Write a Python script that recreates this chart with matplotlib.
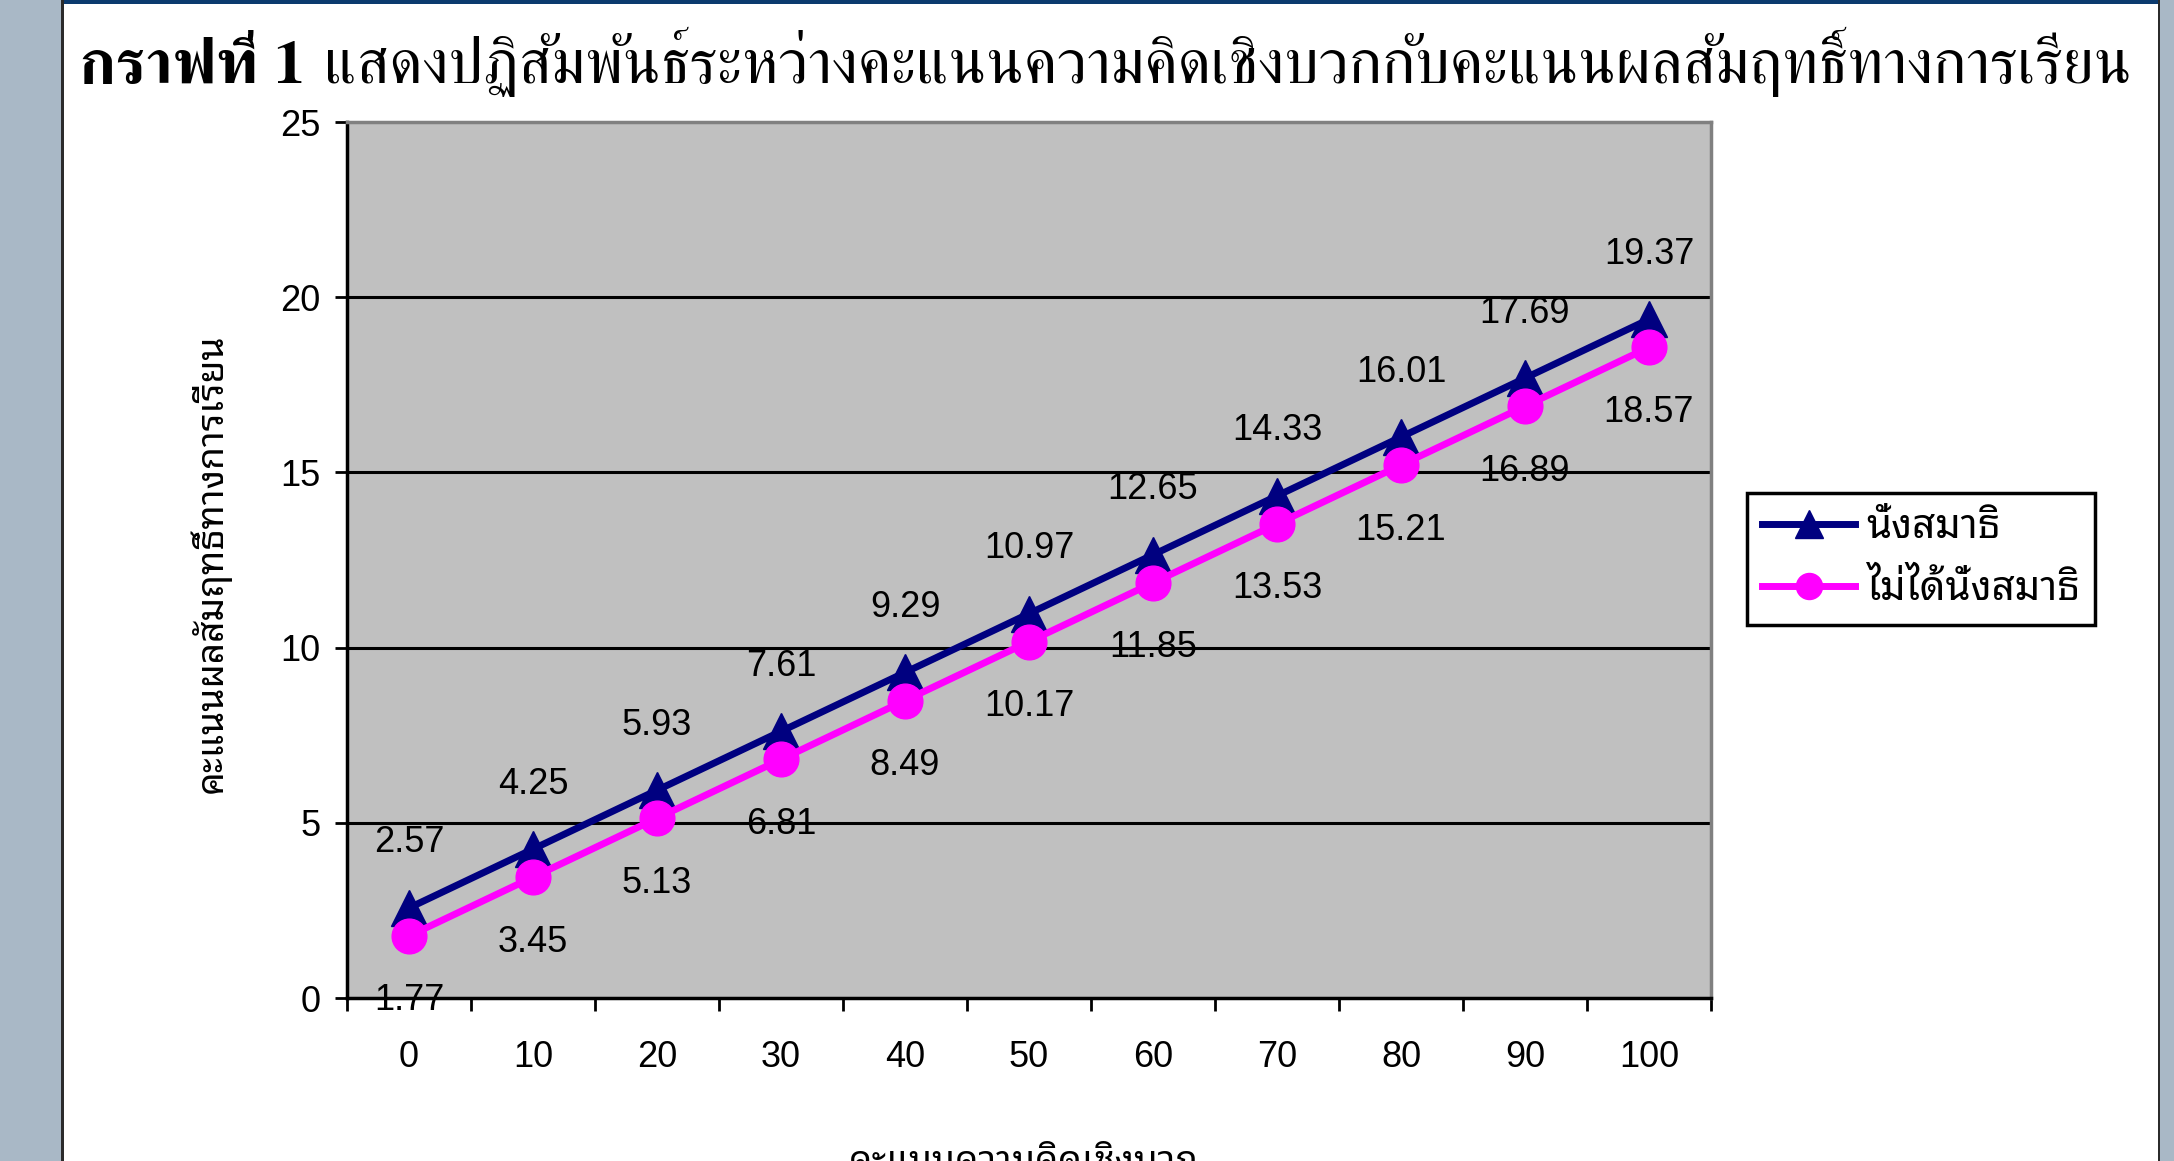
import logging
import matplotlib
matplotlib.use("Agg")
import matplotlib.pyplot as plt
from matplotlib.patches import Rectangle

logging.getLogger("matplotlib.font_manager").setLevel(logging.ERROR)

# ---------------- data ----------------
x_values = [0, 10, 20, 30, 40, 50, 60, 70, 80, 90, 100]
meditation = [2.57, 4.25, 5.93, 7.61, 9.29, 10.97, 12.65, 14.33, 16.01, 17.69, 19.37]
no_meditation = [1.77, 3.45, 5.13, 6.81, 8.49, 10.17, 11.85, 13.53, 15.21, 16.89, 18.57]
series_names = ["นั่งสมาธิ", "ไม่ได้นั่งสมาธิ"]
y_ticks = [0, 5, 10, 15, 20, 25]
title_bold = "กราฟที่ 1"
title_rest = "แสดงปฏิสัมพันธ์ระหว่างคะแนนความคิดเชิงบวกกับคะแนนผลสัมฤทธิ์ทางการเรียน"
x_label = "คะแนนความคิดเชิงบวก"
y_label = "คะแนนผลสัมฤทธิ์ทางการเรียน"

# ---------------- style ----------------
THAI_SANS = ["Noto Sans Thai Looped", "IBM Plex Sans Thai Looped", "Sarabun", "DejaVu Sans"]
THAI_SERIF = ["FreeSerif", "Noto Serif Thai", "DejaVu Serif"]
NUM_FONT = ["Liberation Sans", "DejaVu Sans"]
NAVY = "#000080"
MAGENTA = "#FF00FF"

W, H = 2174, 1161
fig = plt.figure(figsize=(W / 100, H / 100), dpi=100)
fig.patch.set_facecolor("white")


def fx(px):
    return px / W


def fy(py):
    return 1 - py / H


# slide frame decorations
fig.patches.append(Rectangle((0, 0), fx(61), 1, transform=fig.transFigure,
                             facecolor="#A9B8C6", edgecolor="none", zorder=0))
fig.patches.append(Rectangle((fx(61), 0), fx(2.5), 1, transform=fig.transFigure,
                             facecolor="#2b2b2b", edgecolor="none", zorder=0))
fig.patches.append(Rectangle((fx(2160), 0), 1 - fx(2160), 1, transform=fig.transFigure,
                             facecolor="#A9B8C6", edgecolor="none", zorder=0))
fig.patches.append(Rectangle((fx(2157.5), 0), fx(2.5), 1, transform=fig.transFigure,
                             facecolor="#2b2b2b", edgecolor="none", zorder=0))
fig.patches.append(Rectangle((fx(63.5), fy(4)), fx(2157.5) - fx(63.5), 1 - fy(4),
                             transform=fig.transFigure,
                             facecolor="#0B3A6E", edgecolor="none", zorder=0))

# ---------------- axes ----------------
ax = fig.add_axes([fx(347), fy(998), fx(1711) - fx(347), (998 - 122) / H])
ax.set_facecolor("#C0C0C0")
ax.set_xlim(x_values[0] - 5, x_values[-1] + 5)
ax.set_ylim(y_ticks[0], y_ticks[-1])

for yv in y_ticks[1:-1]:
    ax.axhline(yv, color="black", lw=2.2, zorder=1)

l1, = ax.plot(x_values, meditation, color=NAVY, lw=5, marker="^", ms=26,
              mec=NAVY, mfc=NAVY, zorder=3, label=series_names[0], clip_on=False)
l2, = ax.plot(x_values, no_meditation, color=MAGENTA, lw=5, marker="o", ms=25,
              mec=MAGENTA, mfc=MAGENTA, zorder=4, label=series_names[1], clip_on=False)

for xv, v in zip(x_values, meditation):
    ax.annotate(f"{v:.2f}", (xv, v), xytext=(0, 65), textcoords="offset pixels",
                ha="center", va="center", fontsize=26, family=NUM_FONT,
                zorder=6, annotation_clip=False)
for xv, v in zip(x_values, no_meditation):
    ax.annotate(f"{v:.2f}", (xv, v), xytext=(0, -65), textcoords="offset pixels",
                ha="center", va="center", fontsize=26, family=NUM_FONT,
                zorder=6, annotation_clip=False)

# spines
for side in ("left", "bottom"):
    ax.spines[side].set_color("black")
    ax.spines[side].set_linewidth(2.5)
for side in ("top", "right"):
    ax.spines[side].set_color("#808080")
    ax.spines[side].set_linewidth(2.5)
for sp in ax.spines.values():
    sp.set_zorder(5)

# ticks
ax.set_yticks(y_ticks)
ax.set_yticklabels([str(v) for v in y_ticks])
ax.tick_params(axis="y", length=9, width=2, pad=10, labelsize=26, direction="out")
ax.set_xticks(x_values)
ax.set_xticklabels([str(v) for v in x_values])
ax.tick_params(axis="x", which="major", length=0, pad=30, labelsize=26)
ax.set_xticks([v - 5 for v in x_values] + [x_values[-1] + 5], minor=True)
ax.tick_params(axis="x", which="minor", length=9, width=2, direction="out")
for lab in ax.get_xticklabels() + ax.get_yticklabels():
    lab.set_family(NUM_FONT)

fig.canvas.draw()
renderer = fig.canvas.get_renderer()


def fit(t, target, dim="w"):
    for _ in range(4):
        bb = t.get_window_extent(renderer)
        cur = bb.width if dim == "w" else bb.height
        if cur <= 0:
            break
        t.set_fontsize(t.get_fontsize() * target / cur)


# ---------------- title ----------------
t1 = fig.text(fx(79), fy(83), title_bold, fontsize=40, weight="bold",
              family=THAI_SERIF, va="baseline", ha="left")
t2 = fig.text(fx(300), fy(83), title_rest, fontsize=40,
              family=THAI_SERIF, va="baseline", ha="left")
for _ in range(4):
    w1 = t1.get_window_extent(renderer).width
    w2 = t2.get_window_extent(renderer).width
    gap = t1.get_fontsize() * 100 / 72 * 0.3
    scale = 2052 / (w1 + gap + w2)
    t1.set_fontsize(t1.get_fontsize() * scale)
    t2.set_fontsize(t2.get_fontsize() * scale)
w1 = t1.get_window_extent(renderer).width
gap = t1.get_fontsize() * 100 / 72 * 0.3
t2.set_x(fx(79 + w1 + gap))

# ---------------- axis labels ----------------
yl = fig.text(fx(210), fy(563), y_label, rotation=90, ha="center", va="center",
              weight="bold", family=THAI_SANS, fontsize=24)
fit(yl, 460, "h")
xl = fig.text(fx(1024), fy(1172), x_label, ha="center", va="baseline",
              weight="bold", family=THAI_SANS, fontsize=24)
fit(xl, 350, "w")

# ---------------- legend ----------------
tmp = fig.text(0.5, 0.5, series_names[1], family=THAI_SANS, fontsize=24)
fit(tmp, 214, "w")
leg_fs = tmp.get_fontsize()
tmp.remove()
fs_px = leg_fs * 100 / 72
leg = fig.legend(handles=[l1, l2], loc="upper left",
                 bbox_to_anchor=(fx(1747), fy(493)), bbox_transform=fig.transFigure,
                 prop={"family": THAI_SANS, "size": leg_fs},
                 frameon=True, fancybox=False, edgecolor="black", facecolor="white",
                 framealpha=1, borderaxespad=0, borderpad=15 / fs_px,
                 handlelength=93 / fs_px, handletextpad=11 / fs_px,
                 labelspacing=0.55, markerscale=0.75)
leg.get_frame().set_linewidth(2.5)

fig.savefig("out.png", dpi=100)
